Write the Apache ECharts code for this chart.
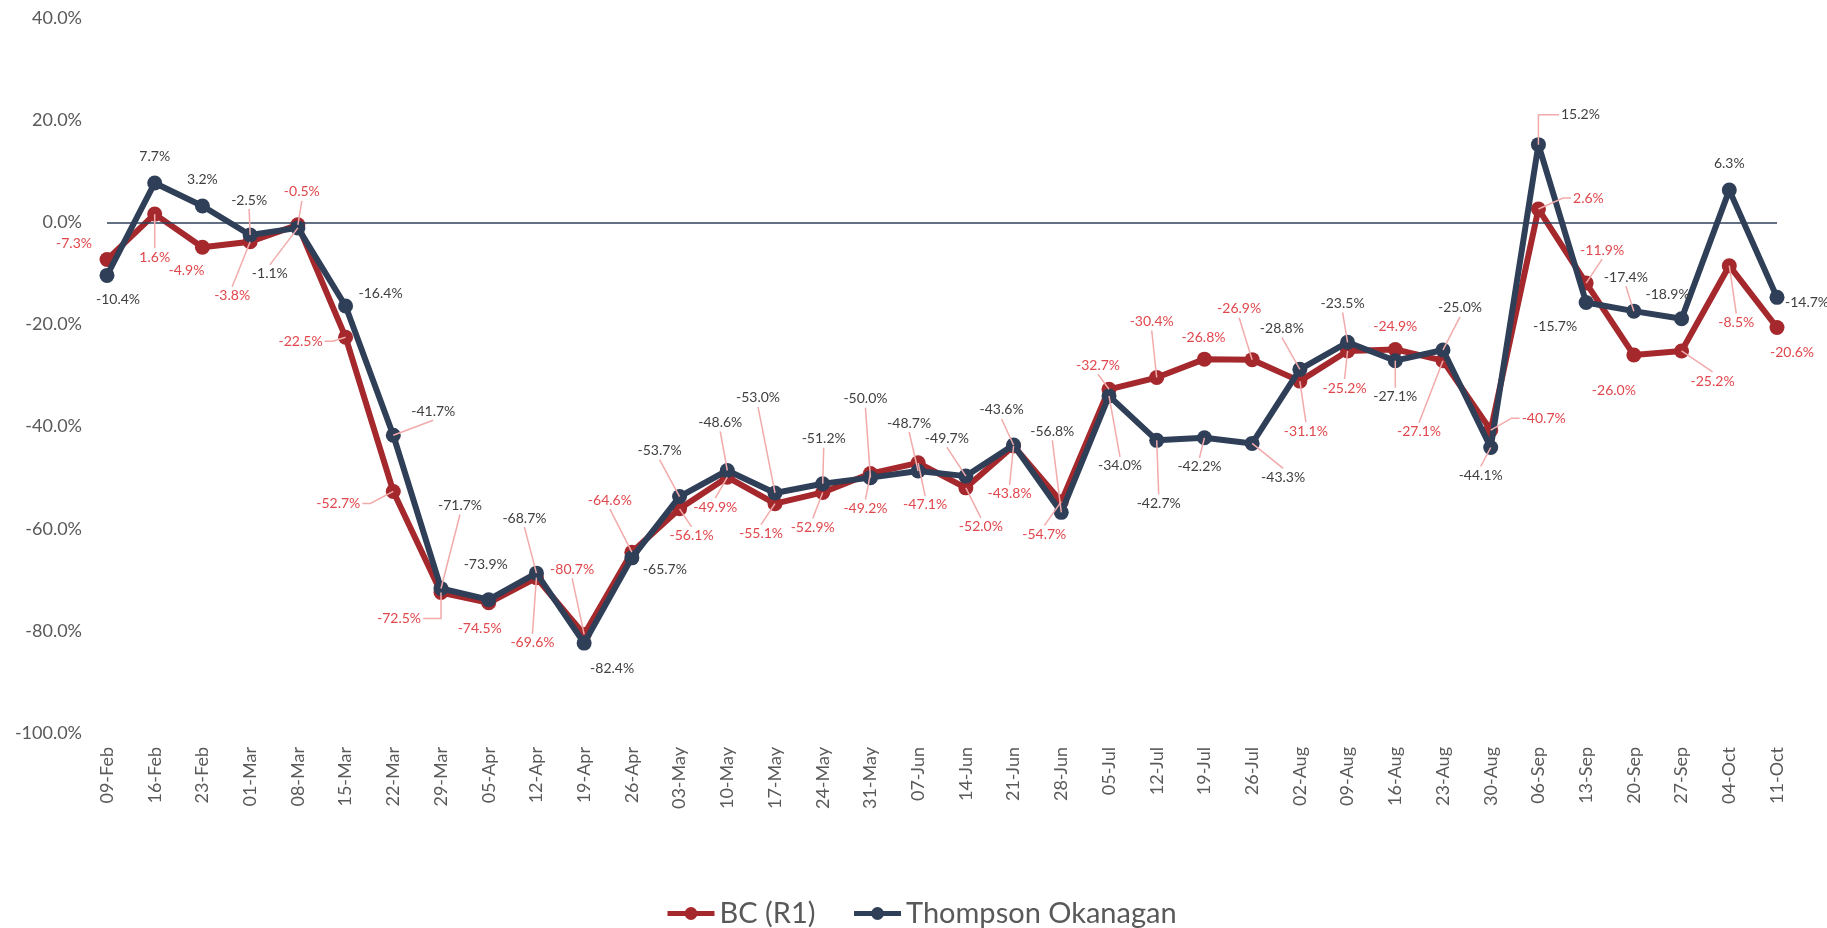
<!DOCTYPE html>
<html>
<head>
<meta charset="utf-8">
<script src="https://cdn.jsdelivr.net/npm/echarts@6/dist/echarts.min.js"></script>
<style>
html, body { margin: 0; padding: 0; background: #fff; }
#chart { width: 1827px; height: 928px; }
</style>
</head>
<body>
<div id="chart"></div>
<script>
var weeks = ['09-Feb','16-Feb','23-Feb','01-Mar','08-Mar','15-Mar','22-Mar','29-Mar','05-Apr','12-Apr',
  '19-Apr','26-Apr','03-May','10-May','17-May','24-May','31-May','07-Jun','14-Jun','21-Jun',
  '28-Jun','05-Jul','12-Jul','19-Jul','26-Jul','02-Aug','09-Aug','16-Aug','23-Aug','30-Aug',
  '06-Sep','13-Sep','20-Sep','27-Sep','04-Oct','11-Oct'];

var bcValues = [-7.3, 1.6, -4.9, -3.8, -0.5, -22.5, -52.7, -72.5, -74.5, -69.6,
  -80.7, -64.6, -56.1, -49.9, -55.1, -52.9, -49.2, -47.1, -52.0, -43.8,
  -54.7, -32.7, -30.4, -26.8, -26.9, -31.1, -25.2, -24.9, -27.1, -40.7,
  2.6, -11.9, -26.0, -25.2, -8.5, -20.6];

var toValues = [-10.4, 7.7, 3.2, -2.5, -1.1, -16.4, -41.7, -71.7, -73.9, -68.7,
  -82.4, -65.7, -53.7, -48.6, -53.0, -51.2, -50.0, -48.7, -49.7, -43.6,
  -56.8, -34.0, -42.7, -42.2, -43.3, -28.8, -23.5, -27.1, -25.0, -44.1,
  15.2, -15.7, -17.4, -18.9, 6.3, -14.7];

var yTicks = { min: -100, max: 40, step: 20 };

// label placement: [dx, dy, leader]  (0 none, 1 straight, 2 elbow)
var bcLabelPos = [[-33,-16,0],[0,43,1],[-16,23,0],[-18,54,1],[4,-33,1],[-45,4,1],[-55,12,1],[-42,26,2],[-9,26,0],[-4,65,1],
  [-12,-65,1],[-22,-52,1],[12,27,1],[-12,30,1],[-14,30,1],[-10,35,1],[-5,35,1],[7,42,1],[15,39,1],[-4,48,1],
  [-17,33,1],[-11,-24,1],[-5,-56,1],[-1,-22,0],[-13,-51,1],[6,50,1],[-3,37,1],[0,-23,0],[-24,71,1],[53,-12,1],
  [50,-11,1],[16,-33,1],[-20,35,0],[31,30,1],[7,57,1],[15,25,0]];

var toLabelPos = [[11,24,0],[0,-26,0],[0,-26,0],[-1,-35,1],[-28,46,1],[35,-13,0],[40,-24,1],[19,-83,1],[-3,-35,0],[-12,-55,1],
  [28,25,0],[33,12,0],[-20,-46,1],[-7,-48,1],[-17,-95,1],[1,-45,1],[-5,-79,1],[-9,-48,1],[-19,-38,1],[-12,-35,1],
  [-9,-81,1],[11,70,1],[2,63,1],[-5,29,1],[31,34,1],[-18,-41,1],[-5,-39,1],[0,36,1],[17,-42,1],[-10,28,1],
  [42,-30,2],[-31,24,0],[-8,-34,1],[-14,-24,0],[0,-27,0],[30,5,0]];

var RED = '#A4282C', NAVY = '#2F3F58';
var RED_TEXT = '#E0474C', GREY_TEXT = '#404040', LEADER = '#F2AAAA';
var FONT = 'Lato, "Open Sans", sans-serif';

var ctx = document.createElement('canvas').getContext('2d');
ctx.font = '14px ' + FONT;

function pct(v) { return v.toFixed(1) + '%'; }

function leaderPoints(pt, lx, ly, w, h, o) {
  var px = pt[0], py = pt[1];
  var sx = px < lx ? lx - w / 2 - 2 : lx + w / 2 + 2;
  if (o[2] === 2) {
    return [[sx, ly], [px, ly], [px, py]];
  }
  if (Math.abs(o[1]) < h) {
    var stub = px < lx ? sx - 8 : sx + 8;
    return [[sx, ly], [stub, ly], [px, py]];
  }
  var ey = py < ly ? ly - h / 2 - 1 : ly + h / 2 + 1;
  return [[lx, ey], [px, py]];
}

function labelRenderer(offsets, color) {
  return function (params, api) {
    var i = api.value(0), v = api.value(1);
    var pt = api.coord([i, v]);
    var o = offsets[i];
    var text = pct(v);
    var w = ctx.measureText(text).width, h = 16;
    var lx = pt[0] + o[0], ly = pt[1] + o[1];
    var children = [];
    if (o[2]) {
      children.push({
        type: 'polyline',
        shape: { points: leaderPoints(pt, lx, ly, w, h, o) },
        style: { stroke: LEADER, lineWidth: 1.5, fill: null }
      });
    }
    children.push({
      type: 'text', x: lx, y: ly,
      style: { text: text, fill: color, fontSize: 14, fontFamily: FONT, align: 'center', verticalAlign: 'middle' }
    });
    return { type: 'group', children: children };
  };
}

function indexed(values) {
  return values.map(function (v, i) { return [i, v]; });
}

var chart = echarts.init(document.getElementById('chart'));
chart.setOption({
  animation: false,
  backgroundColor: '#fff',
  textStyle: { fontFamily: FONT },
  grid: { left: 107, right: 50, top: 18, bottom: 195 },
  legend: {
    data: ['BC (R1)', 'Thompson Okanagan'],
    left: 660, top: 894,
    itemWidth: 47, itemHeight: 16, itemGap: 36,
    lineStyle: { width: 5 },
    textStyle: { fontSize: 29, color: '#595959', fontFamily: FONT }
  },
  xAxis: {
    type: 'category',
    data: weeks,
    boundaryGap: false,
    axisLine: { show: false },
    axisTick: { show: false },
    axisLabel: { rotate: 90, fontSize: 18, color: '#595959', margin: 14, interval: 0, fontFamily: FONT }
  },
  yAxis: {
    type: 'value',
    min: yTicks.min, max: yTicks.max, interval: yTicks.step,
    axisLine: { show: false },
    axisTick: { show: false },
    splitLine: { show: false },
    axisLabel: {
      fontSize: 18, color: '#595959', margin: 25, fontFamily: FONT,
      formatter: function (v) { return v.toFixed(1) + '%'; }
    }
  },
  series: [
    {
      name: 'zero', type: 'line', data: [], z: 1, silent: true,
      markLine: {
        silent: true, symbol: ['none', 'none'], label: { show: false },
        lineStyle: { color: NAVY, width: 1.5, type: 'solid' },
        data: [{ yAxis: 0 }]
      }
    },
    {
      name: 'BC (R1)', type: 'line', data: bcValues, z: 3,
      symbol: 'circle', symbolSize: 15,
      lineStyle: { color: RED, width: 6 },
      itemStyle: { color: RED }
    },
    {
      name: 'Thompson Okanagan', type: 'line', data: toValues, z: 4,
      symbol: 'circle', symbolSize: 15,
      lineStyle: { color: NAVY, width: 6 },
      itemStyle: { color: NAVY }
    },
    {
      name: 'bc-labels', type: 'custom', z: 6, silent: true,
      data: indexed(bcValues),
      renderItem: labelRenderer(bcLabelPos, RED_TEXT)
    },
    {
      name: 'to-labels', type: 'custom', z: 6, silent: true,
      data: indexed(toValues),
      renderItem: labelRenderer(toLabelPos, GREY_TEXT)
    }
  ]
});
</script>
</body>
</html>
